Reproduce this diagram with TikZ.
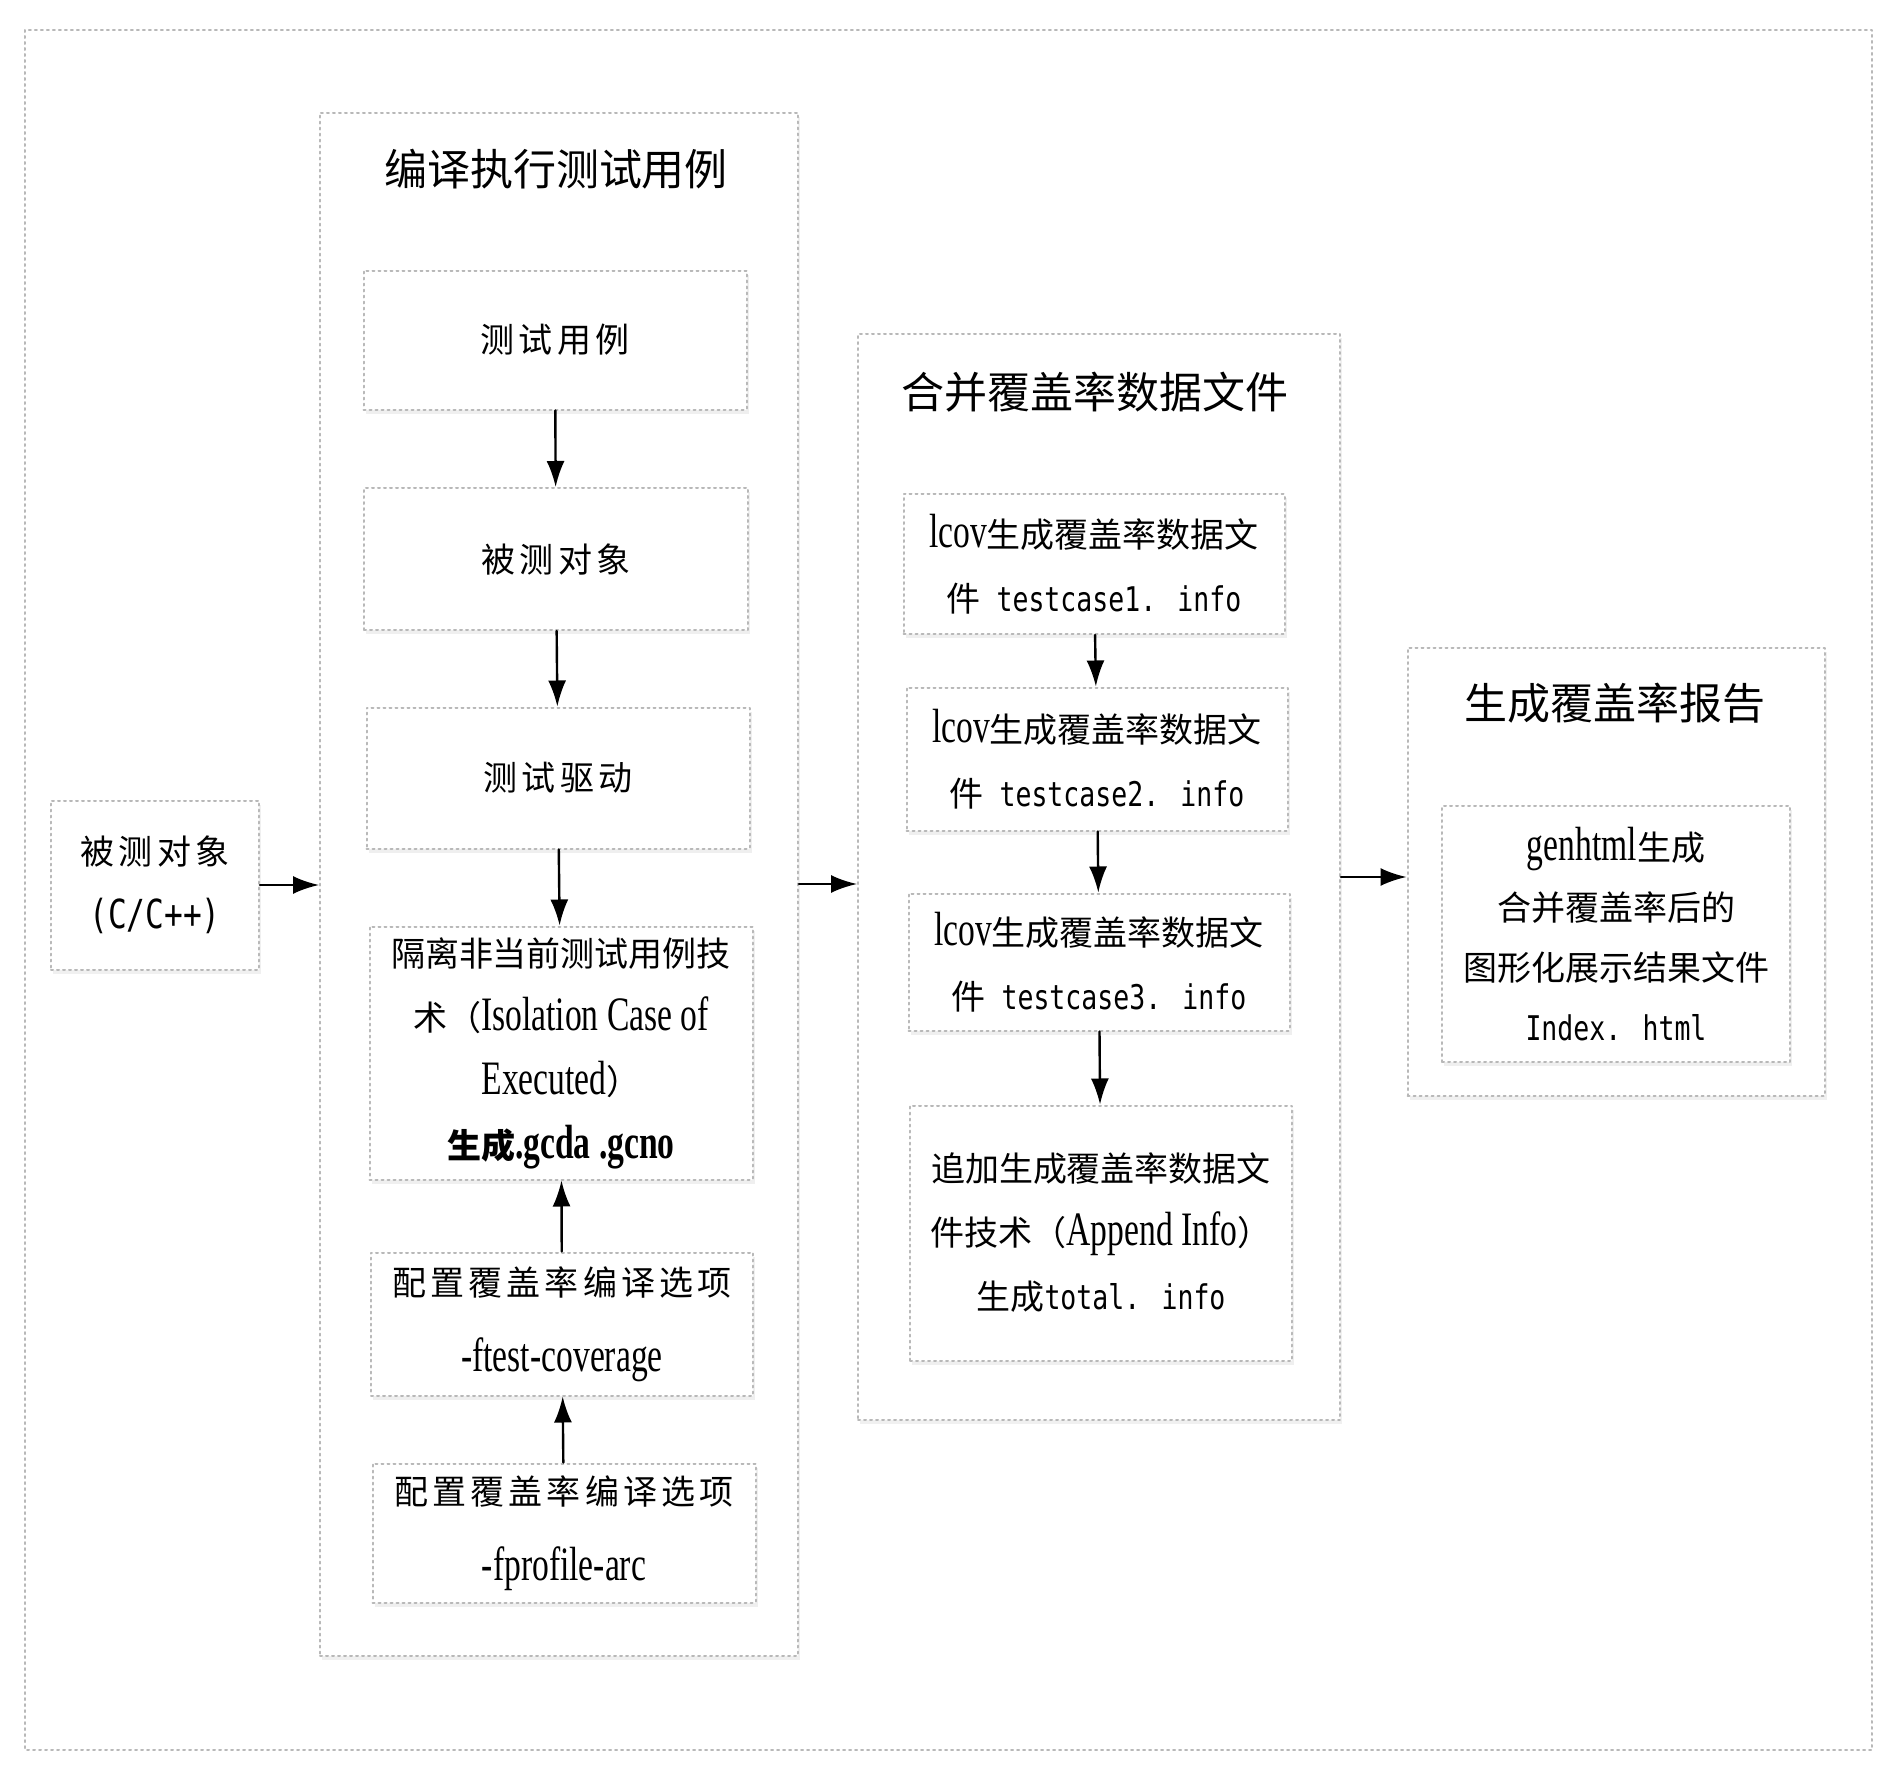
\documentclass[tikz,border=0pt]{standalone}
\usepackage{fontspec}
\setmainfont{Noto Sans CJK SC}
\newfontfamily\song[LetterSpace=12]{Noto Sans CJK SC}
\newfontfamily\tnr[FakeStretch=0.7]{Liberation Serif}
\newfontfamily\mono[FakeStretch=0.78]{DejaVu Sans Mono}
\newcommand\en[1]{{\tnr\fontsize{12pt}{16pt}\selectfont #1}}
\newcommand\mn[1]{{\mono #1}}
\usetikzlibrary{arrows.meta,shadows}

\begin{document}
\begin{tikzpicture}[x=0.25pt, y=-0.25pt, line join=round, line cap=round, >={Latex[length=6.5pt,width=4.5pt]},
  dotbox/.style={draw=black!28, densely dotted, line width=0.5pt},
  box/.style={dotbox, fill=white, inner sep=0pt, align=center, drop shadow={opacity=0.12, shadow xshift=0.6pt, shadow yshift=-1pt}},
  txt/.style={font=\fontsize{8.5pt}{16pt}\selectfont},
  ttl/.style={font=\fontsize{10.75pt}{13pt}\selectfont},
  flow/.style={->, line width=0.6pt}]
  \useasboundingbox (0,0) rectangle (1889,1767);
  \draw[dotbox] (25,30) rectangle (1872,1750);
  % three stages
  \node[box, minimum width=119.5pt, minimum height=385.75pt] (col1) at (559,884) {};
  \node[box, minimum width=120.5pt, minimum height=271.5pt] (col2) at (1099,877) {};
  \node[box, minimum width=104.25pt, minimum height=112pt] (col3) at (1616,872) {};
  \node[ttl] (t1) at (556,169) {编译执行测试用例};
  \node[ttl] (t2) at (1095,392) {合并覆盖率数据文件};
  \node[ttl] (t3) at (1615,703) {生成覆盖率报告};
  % source
  \node[box, txt, minimum width=52pt, minimum height=42.25pt] (src) at (155,885) {{\song 被测对象}\\{\mono\fontsize{10pt}{16pt}\selectfont (C/C++)}};
  % compile and run
  \node[box, txt, minimum width=95.75pt, minimum height=34.75pt] (b1) at (555,340) {\song 测试用例};
  \node[box, txt, minimum width=96pt, minimum height=35.5pt] (b2) at (556,559) {\song 被测对象};
  \node[box, txt, minimum width=95.75pt, minimum height=35.25pt] (b3) at (558,778) {\song 测试驱动};
  \node[box, txt, minimum width=95.75pt, minimum height=63.25pt] (b4) at (561,1053) {隔离非当前测试用例技\\术（\en{Isolation Case of}\\\en{Executed}）\\{\bfseries 生成\en{.gcda .gcno}}};
  \node[box, txt, minimum width=95.5pt, minimum height=35.75pt] (b5) at (562,1324) {{\song 配置覆盖率编译选项}\\[3pt]\en{-ftest-coverage}};
  \node[box, txt, minimum width=95.75pt, minimum height=34.75pt] (b6) at (564,1533) {{\song 配置覆盖率编译选项}\\[3pt]\en{-fprofile-arc}};
  % merge
  \node[box, txt, minimum width=95.25pt, minimum height=35pt] (c1) at (1094,564) {\en{lcov}生成覆盖率数据文\\件\mn{ testcase1. info}};
  \node[box, txt, minimum width=95.25pt, minimum height=35.75pt] (c2) at (1097,759) {\en{lcov}生成覆盖率数据文\\件\mn{ testcase2. info}};
  \node[box, txt, minimum width=95.25pt, minimum height=34.25pt] (c3) at (1099,962) {\en{lcov}生成覆盖率数据文\\件\mn{ testcase3. info}};
  \node[box, txt, minimum width=95.5pt, minimum height=63.75pt] (c4) at (1101,1233) {追加生成覆盖率数据文\\件技术（\en{Append Info}）\\生成\mn{total. info}};
  % report
  \node[box, txt, font=\fontsize{8.5pt}{15pt}\selectfont, minimum width=87pt, minimum height=64pt] (d1) at (1616,934) {\en{genhtml}生成\\合并覆盖率后的\\图形化展示结果文件\\\mn{Index. html}};
  % arrows
  \draw[flow] (b1) -- (b2);
  \draw[flow] (b2) -- (b3);
  \draw[flow] (b3) -- (b4);
  \draw[flow] (b5) -- (b4);
  \draw[flow] (b6) -- (b5);
  \draw[flow] (c1) -- (c2);
  \draw[flow] (c2) -- (c3);
  \draw[flow] (c3) -- (c4);
  \draw[flow] (src.east) -- (src.east -| col1.west);
  \draw[flow] (col1.east) -- (col1.east -| col2.west);
  \draw[flow] (col2.east) -- (col2.east -| col3.west);
\end{tikzpicture}
\end{document}
